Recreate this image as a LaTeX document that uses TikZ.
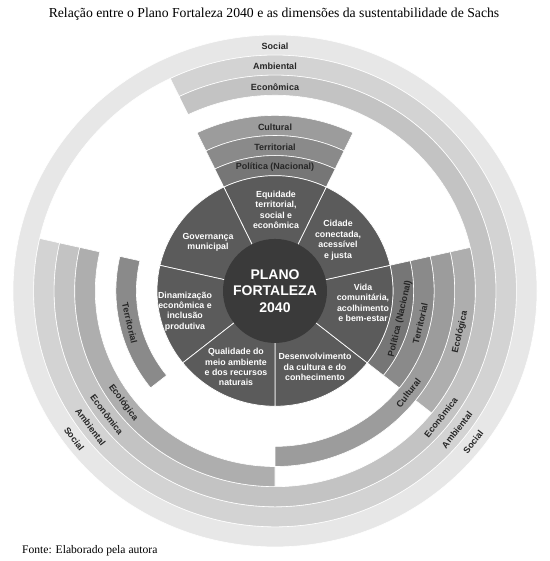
\documentclass[tikz,border=0pt]{standalone}
\usepackage{fontspec}
\setmainfont{Liberation Serif}
\setsansfont{Liberation Sans}
\usepackage{tikz}
\usepackage{xcolor}
\definecolor{pfSocial}{HTML}{E7E7E7}
\definecolor{pfAmbiental}{HTML}{D3D3D3}
\definecolor{pfEconomica}{HTML}{C3C3C3}
\definecolor{pfEcologica}{HTML}{AEAEAE}
\definecolor{pfCultural}{HTML}{9C9C9C}
\definecolor{pfTerritorial}{HTML}{8A8A8A}
\definecolor{pfPolitica}{HTML}{767676}
\definecolor{pfSector}{HTML}{5B5B5B}
\definecolor{pfCore}{HTML}{3A3A3A}
\tikzset{
  pfband/.style={fill=#1, draw=white, line width=0.6pt},
  pfsector/.style={fill=pfSector, draw=white, line width=0.7pt},
  pflabel/.style={font=\sffamily\bfseries\fontsize{9}{10}\selectfont, text=black!85, inner sep=0pt},
  pftext/.style={font=\sffamily\bfseries\fontsize{8.8}{10.4}\selectfont, text=white, align=center, inner sep=0pt},
  pfcore/.style={circle, fill=pfCore, minimum size=104pt, inner sep=0pt, text=white, align=center,
    font=\sffamily\bfseries\fontsize{14}{16.5}\selectfont},
}
\newcommand{\PFseg}[5]{%
  \path[pfband=#1] (#4:#2) arc[start angle=#4, end angle=#5, radius=#2]
    -- (#5:#3) arc[start angle=#5, end angle=#4, radius=#3] -- cycle;}

\begin{document}
\begin{tikzpicture}[x=1pt, y=0.977pt]
  \useasboundingbox (-275,-276.4) rectangle (274,297.8);

  \node[font=\fontsize{13.7}{16}\selectfont] (title) at (-1,283.5)
    {Relação entre o Plano Fortaleza 2040 e as dimensões da sustentabilidade de Sachs};

  % outer dimensions
  \path[pfband=pfSocial, even odd rule] (0,0) circle[radius=262] (0,0) circle[radius=241.4];
  \PFseg{pfAmbiental}{220.9}{241.4}{167.14}{475.71}
  \PFseg{pfEconomica}{200.3}{220.9}{167.14}{475.71}
  \PFseg{pfEcologica}{179.7}{200.3}{167.14}{270}
  \PFseg{pfEcologica}{179.7}{200.3}{-38.57}{12.86}
  \PFseg{pfCultural}{159.1}{179.7}{64.29}{115.71}
  \PFseg{pfCultural}{159.1}{179.7}{-90}{12.86}
  \PFseg{pfTerritorial}{138.6}{159.1}{64.29}{115.71}
  \PFseg{pfTerritorial}{138.6}{159.1}{167.14}{218.57}
  \PFseg{pfTerritorial}{138.6}{159.1}{-38.57}{12.86}
  \PFseg{pfPolitica}{118}{138.6}{64.29}{115.71}
  \PFseg{pfPolitica}{118}{138.6}{-38.57}{12.86}

  % plan sectors
  \foreach \k in {0,...,6}
    \path[pfsector] (0,0) -- ({270+\k*51.4286}:118)
      arc[start angle={270+\k*51.4286}, end angle={270+(\k+1)*51.4286}, radius=118] -- cycle;

  \node[pfcore] (core) at (0,0) {PLANO\\FORTALEZA\\2040};

  \node[pftext] (equidade) at (1,83) {Equidade\\territorial,\\social e\\econômica};
  \node[pftext] (cidade) at (63,52) {Cidade\\conectada,\\acessível\\e justa};
  \node[pftext] (vida) at (88,-12) {Vida\\comunitária,\\acolhimento\\e bem-estar};
  \node[pftext] (desenv) at (40,-78) {Desenvolvimento\\da cultura e do\\conhecimento};
  \node[pftext] (qualidade) at (-39,-78) {Qualidade do\\meio ambiente\\e dos recursos\\naturais};
  \node[pftext] (dinam) at (-90,-21) {Dinamização\\econômica e\\inclusão\\produtiva};
  \node[pftext] (govern) at (-67,50) {Governança\\municipal};

  \node[pflabel] (socialT) at (90:250.5) {Social};
  \node[pflabel] (ambientalT) at (90:229.5) {Ambiental};
  \node[pflabel] (economicaT) at (90:208.5) {Econômica};
  \node[pflabel] (culturalT) at (90:167.5) {Cultural};
  \node[pflabel] (territorialT) at (90:147) {Territorial};
  \node[pflabel] (politicaT) at (90:126.5) {Política (Nacional)};

  \node[pflabel, rotate=-77] (territorialL) at (192.86:149) {Territorial};
  \node[pflabel, rotate=-53] (ecologicaL) at (217:190) {Ecológica};
  \node[pflabel, rotate=-53] (economicaL) at (217:210.5) {Econômica};
  \node[pflabel, rotate=-53] (ambientalL) at (217:231) {Ambiental};
  \node[pflabel, rotate=-53] (socialL) at (217:251.5) {Social};

  \node[pflabel, rotate=77] (politicaR) at (-12.86:128.3) {Política (Nacional)};
  \node[pflabel, rotate=77] (territorialR) at (-12.86:149) {Territorial};
  \node[pflabel, rotate=77] (ecologicaR) at (-12.86:190) {Ecológica};
  \node[pflabel, rotate=52] (culturalR) at (-38:169.4) {Cultural};
  \node[pflabel, rotate=52] (economicaR) at (-38:210.5) {Econômica};
  \node[pflabel, rotate=52] (ambientalR) at (-38:231) {Ambiental};
  \node[pflabel, rotate=52] (socialR) at (-38:251.5) {Social};

  \node[font=\fontsize{11.6}{13}\selectfont, anchor=west, inner sep=0pt] (fonte) at (-253,-266)
    {Fonte: Elaborado pela autora};
\end{tikzpicture}
\end{document}
